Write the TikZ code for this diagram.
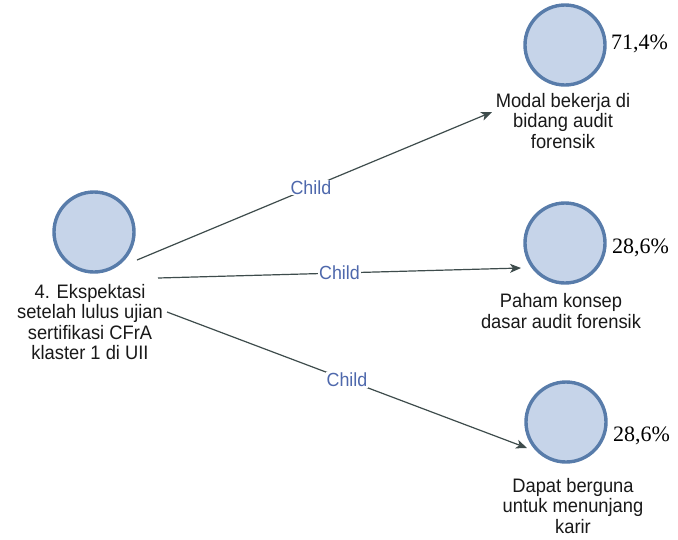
\documentclass[tikz,border=0pt]{standalone}
\usepackage{fontspec}
\setmainfont{Liberation Sans}[FakeStretch=0.94]
\newfontfamily\pctfont{Liberation Serif}
\usetikzlibrary{arrows.meta}
\definecolor{ballfill}{RGB}{198,212,233}
\definecolor{ballring}{RGB}{88,124,170}
\definecolor{ballinner}{RGB}{160,195,235}
\definecolor{edgegray}{RGB}{62,76,76}
\definecolor{childblue}{RGB}{78,104,172}
\tikzset{
  ball/.style={circle, fill=ballfill, draw=ballring, line width=3.4pt,
    minimum size=80pt, inner sep=0pt,
    append after command={\pgfextra{\draw[ballinner,line width=0.8pt]
      (\tikzlastnode.center) circle (36.4pt);}}},
  caption/.style={align=center, font=\fontsize{19.5}{20.5}\selectfont, inner sep=0pt, text=black!90},
  pct/.style={font=\pctfont\fontsize{22}{24}\selectfont, inner sep=0pt},
  link/.style={draw=edgegray, line width=1.2pt, -{Stealth[length=11pt,width=9pt,inset=3pt]}},
  childlbl/.style={fill=white, inner sep=1pt, text=childblue, font=\fontsize{19}{20}\selectfont}
}
\begin{document}
\begin{tikzpicture}[x=1pt,y=-1pt]
\useasboundingbox (0,0) rectangle (678,539);
\fill[white] (0,0) rectangle (678,539);

% source node
\node[ball] (src) at (94,232) {};
\node[caption] (srccap) at (90,322) {4. Ekspektasi\\setelah lulus ujian\\sertifikasi CFrA\\klaster 1 di UII};

% target nodes
\node[ball] (t1) at (565,45) {};
\node[caption] (t1cap) at (563,121) {Modal bekerja di\\bidang audit\\forensik};
\node[pct, anchor=west] (p1) at (611,44) {71,4\%};

\node[ball] (t2) at (565,243) {};
\node[caption] (t2cap) at (561,311) {Paham konsep\\dasar audit forensik};
\node[pct, anchor=west] (p2) at (612,248) {28,6\%};

\node[ball] (t3) at (566,422) {};
\node[caption] (t3cap) at (573,506) {Dapat berguna\\untuk menunjang\\karir};
\node[pct, anchor=west] (p3) at (613,436) {28,6\%};

% connector end points
\coordinate (s1) at (137,260);
\coordinate (s2) at (158,278);
\coordinate (s3) at (167,312);
\coordinate (e1) at (492,112);
\coordinate (e2) at (521,268);
\coordinate (e3) at (527,448);

\draw[link] (s1) -- node[childlbl, pos=0.49] {Child} (e1);
\draw[link] (s2) -- node[childlbl, pos=0.5] {Child} (e2);
\draw[link] (s3) -- node[childlbl, pos=0.5] {Child} (e3);
\end{tikzpicture}
\end{document}
